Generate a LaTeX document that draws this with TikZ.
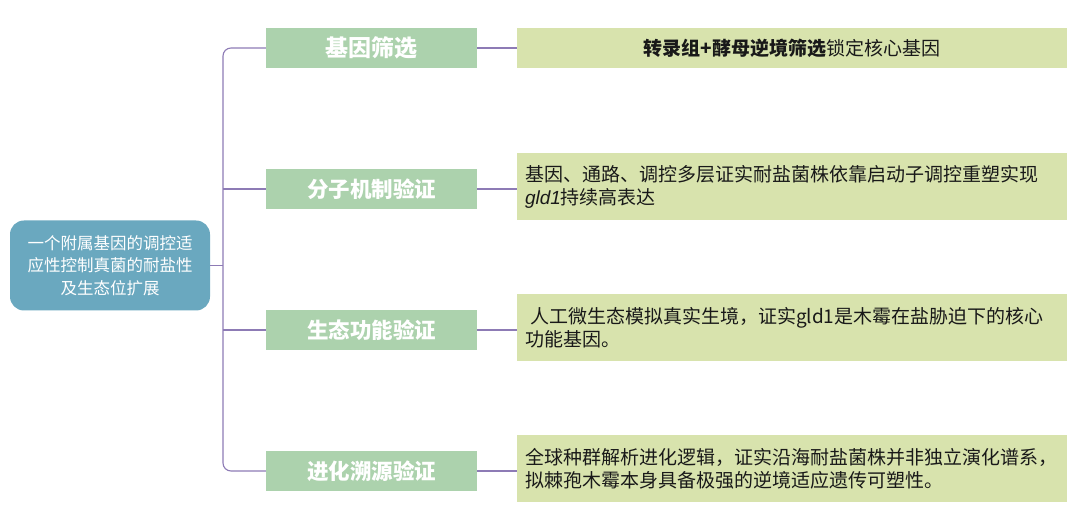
\documentclass[tikz,border=0pt]{standalone}
\usepackage{fontspec}
\setmainfont{Noto Sans CJK SC}
\newfontfamily\genefont{Liberation Sans}
\definecolor{rootblue}{HTML}{6AA8BF}
\definecolor{topicgreen}{HTML}{ACD2AD}
\definecolor{detailgreen}{HTML}{D8E3AD}
\definecolor{linkpurple}{HTML}{8D7BB5}
\begin{document}
\begin{tikzpicture}[x=1pt, y=-1pt,
  root/.style={rounded corners=14pt, fill=rootblue, text=white, minimum width=200pt, minimum height=90pt, align=center, font=\fontsize{16.5}{22.5}\selectfont},
  topic/.style={fill=topicgreen, text=white, minimum width=211pt, minimum height=40pt, inner sep=0pt, font=\fontsize{21.5}{24}\selectfont\bfseries},
  detail/.style={fill=detailgreen, text=black!90, minimum width=550pt, text width=534pt, inner xsep=8pt, align=left, font=\fontsize{19}{23}\selectfont},
  link/.style={draw=linkpurple, line width=1.1pt}]
\useasboundingbox (0,0) rectangle (1080,521);
\node[root] (root) at (110,265.5){一个附属基因的调控适\\应性控制真菌的耐盐性\\及生态位扩展};
\coordinate (spine) at (223,265.5);
\node[topic, font=\fontsize{23}{26}\selectfont\bfseries] (topic1) at (371.5,48){基因筛选};
\node[topic] (topic2) at (371.5,189){分子机制验证};
\node[topic] (topic3) at (371.5,330){生态功能验证};
\node[topic] (topic4) at (371.5,471){进化溯源验证};
\node[detail, minimum height=40pt, align=center] (detail1) at (792,48){\textbf{转录组+酵母逆境筛选}锁定核心基因};
\node[detail, minimum height=67pt] (detail2) at (792,186.5){基因、通路、调控多层证实耐盐菌株依靠启动子调控重塑实现\\{\genefont\itshape gld1}持续高表达};
\node[detail, minimum height=67pt] (detail3) at (792,327.5){\hspace{5pt}人工微生态模拟真实生境，证实gld1是木霉在盐胁迫下的核心\\功能基因。};
\node[detail, minimum height=67pt] (detail4) at (792,468.5){全球种群解析进化逻辑，证实沿海耐盐菌株并非独立演化谱系，\\拟棘孢木霉本身具备极强的逆境适应遗传可塑性。};
\draw[link, rounded corners=8pt](topic1.west) -- (topic1.west -| spine) -- (topic4.west -| spine) -- (topic4.west);
\draw[link](root.east) -- (spine);
\draw[link](topic2.west) -- (topic2.west -| spine);
\draw[link](topic3.west) -- (topic3.west -| spine);
\draw[link](topic1.east) -- (detail1.west |- topic1.east);
\draw[link](topic2.east) -- (detail2.west |- topic2.east);
\draw[link](topic3.east) -- (detail3.west |- topic3.east);
\draw[link](topic4.east) -- (detail4.west |- topic4.east);
\end{tikzpicture}
\end{document}
